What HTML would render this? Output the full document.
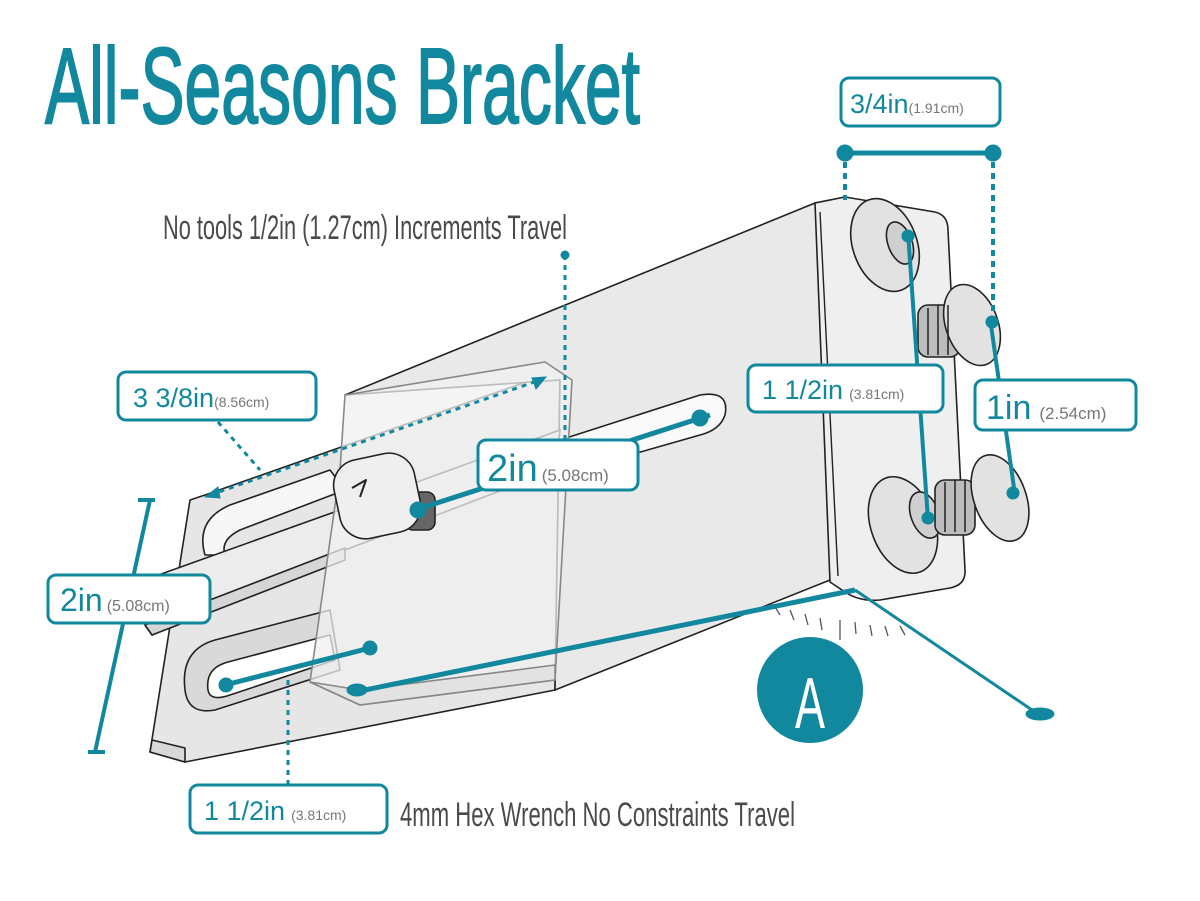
<!DOCTYPE html>
<html><head><meta charset="utf-8"><style>
html,body{margin:0;padding:0;background:#fff;}
svg{display:block}
</style></head><body>
<svg width="1200" height="901" viewBox="0 0 1200 901" xmlns="http://www.w3.org/2000/svg" font-family="Liberation Sans, sans-serif">
<rect width="1200" height="901" fill="#fff"/>
<!-- title -->
<text x="45" y="123" fill="#12889e" stroke="#12889e" stroke-width="2" font-size="108" textLength="595" lengthAdjust="spacingAndGlyphs">All-Seasons Bracket</text>
<text x="163" y="239" fill="#4a4a4a" font-size="34" textLength="404" lengthAdjust="spacingAndGlyphs">No tools 1/2in (1.27cm) Increments Travel</text>
<text x="400" y="826" fill="#4a4a4a" font-size="34" textLength="395" lengthAdjust="spacingAndGlyphs">4mm Hex Wrench No Constraints Travel</text>

<g stroke="#222" stroke-width="1.6" stroke-linejoin="round">
<!-- lower base plate -->
<polygon points="190,500 205,495 560,370 555,690 185,762 150,752" fill="#e6e6e6"/>
<polygon points="150,752 185,762 185,748 152,740" fill="#d8d8d8"/>
<!-- main box -->
<polygon points="345,395 815,203 845,197 830,580 555,690 560,380" fill="#e9e9e9"/>
<!-- right end plate -->
<path d="M815,203 L845,197 L935,212 Q948,215 948,230 L965,570 Q966,585 950,588 L880,600 Q860,602 845,592 L830,582 Z" fill="#efefef"/>
<line x1="820" y1="212" x2="838" y2="576" stroke-width="1.4"/>
<!-- upper slot on lower plate -->
<path d="M205,555 Q195,520 230,505 L330,470 L345,490 L240,530 Q220,540 225,555 Z" fill="#f7f7f7"/>
<!-- rail -->
<polygon points="150,578 340,510 560,430 555,470 345,550 152,635 145,625" fill="#ececec"/>
<polygon points="145,625 152,635 345,560 345,548" fill="#d6d6d6"/>
<!-- lower slot -->
<path d="M185,690 Q180,650 215,640 L330,610 L340,670 L215,710 Q188,715 185,690 Z" fill="#d9d9d9"/>
<path d="M208,690 Q205,668 228,662 L330,635 L335,660 L230,695 Q210,702 208,690 Z" fill="#fff"/>
<!-- right slot on main box -->
<path d="M560,440 L700,395 Q730,390 725,415 Q720,430 700,435 L560,475 Z" fill="#fafafa"/>
<!-- translucent slider plate -->
<polygon points="345,395 545,362 572,380 555,680 360,705 310,682 340,470" fill="#f0f0f0" fill-opacity="0.75" stroke="#888"/>
<polygon points="310,682 360,705 555,680 555,665 360,690" fill="#dedede" fill-opacity="0.8" stroke="#888"/>
<!-- knob -->
<rect x="405" y="492" width="30" height="38" rx="8" fill="#666"/>
<rect x="336" y="456" width="82" height="80" rx="26" fill="#efefef" transform="rotate(-12 377 495)"/>
<path d="M352,488 L366,480 L360,497" fill="none" stroke-width="2"/>
<!-- screws -->
<ellipse cx="885" cy="245" rx="32" ry="48" fill="#e2e2e2" transform="rotate(-20 885 245)"/>
<ellipse cx="900" cy="243" rx="12" ry="22" fill="#cfcfcf" transform="rotate(-20 900 243)"/>
<rect x="918" y="305" width="42" height="52" rx="10" fill="#bdbdbd"/>
<ellipse cx="972" cy="325" rx="26" ry="42" fill="#e2e2e2" transform="rotate(-20 972 325)"/>
<ellipse cx="903" cy="525" rx="32" ry="50" fill="#e2e2e2" transform="rotate(-20 903 525)"/>
<ellipse cx="925" cy="515" rx="14" ry="24" fill="#cfcfcf" transform="rotate(-20 925 515)"/>
<rect x="935" y="480" width="40" height="55" rx="10" fill="#bdbdbd"/>
<ellipse cx="1000" cy="498" rx="26" ry="45" fill="#e2e2e2" transform="rotate(-20 1000 498)"/>
</g>
<!-- thread lines -->
<g stroke="#222" stroke-width="1.5">
<line x1="928" y1="308" x2="928" y2="355"/><line x1="938" y1="305" x2="938" y2="355"/><line x1="948" y1="305" x2="948" y2="355"/>
<line x1="945" y1="482" x2="945" y2="532"/><line x1="955" y1="480" x2="955" y2="532"/><line x1="965" y1="480" x2="965" y2="532"/>
</g>
<!-- angle ticks -->
<g stroke="#555" stroke-width="1.3">
<line x1="775" y1="607" x2="780" y2="615"/><line x1="790" y1="610" x2="794" y2="620"/><line x1="805" y1="614" x2="808" y2="625"/><line x1="820" y1="618" x2="822" y2="630"/><line x1="840" y1="620" x2="840" y2="640"/><line x1="855" y1="622" x2="856" y2="634"/><line x1="870" y1="625" x2="872" y2="636"/><line x1="885" y1="626" x2="888" y2="636"/><line x1="900" y1="626" x2="905" y2="635"/>
</g>
<!-- teal dimension lines -->
<g stroke="#12889e" fill="#12889e">
<line x1="845" y1="153" x2="993" y2="153" stroke-width="5"/>
<circle cx="845" cy="153" r="8"/><circle cx="993" cy="153" r="8"/>
<line x1="845" y1="162" x2="845" y2="200" stroke-width="4" stroke-dasharray="6,5"/>
<line x1="993" y1="162" x2="993" y2="312" stroke-width="4" stroke-dasharray="6,5"/>
<line x1="908" y1="232" x2="928" y2="520" stroke-width="4"/>
<circle cx="908" cy="236" r="6"/><circle cx="928" cy="518" r="6"/>
<line x1="990" y1="318" x2="1015" y2="495" stroke-width="4"/>
<circle cx="992" cy="322" r="6"/><circle cx="1013" cy="493" r="6"/>
<line x1="415" y1="510" x2="710" y2="415" stroke-width="5"/>
<circle cx="418" cy="510" r="8"/><circle cx="700" cy="418" r="8"/>
<line x1="225" y1="685" x2="370" y2="648" stroke-width="5"/>
<circle cx="226" cy="685" r="7"/><circle cx="370" cy="648" r="7"/>
<line x1="355" y1="692" x2="855" y2="590" stroke-width="5"/>
<ellipse cx="357" cy="690" rx="10" ry="6"/>
<line x1="855" y1="590" x2="1035" y2="712" stroke-width="3"/>
<ellipse cx="1040" cy="714" rx="14" ry="6"/>
<line x1="150" y1="500" x2="95" y2="752" stroke-width="4"/>
<line x1="138" y1="500" x2="155" y2="500" stroke-width="4"/>
<line x1="88" y1="752" x2="105" y2="752" stroke-width="4"/>
<line x1="565" y1="255" x2="565" y2="440" stroke-width="3" stroke-dasharray="5,5"/>
<circle cx="565" cy="255" r="4"/>
<line x1="218" y1="422" x2="260" y2="470" stroke-width="3" stroke-dasharray="5,5"/>
<line x1="210" y1="495" x2="540" y2="380" stroke-width="3" stroke-dasharray="5,5"/>
<polygon points="205,497 218,487 220,498"/><polygon points="546,377 532,378 536,389"/>
<line x1="288" y1="680" x2="288" y2="785" stroke-width="3" stroke-dasharray="5,5"/>
</g>
<!-- A circle -->
<ellipse cx="810" cy="690" rx="53" ry="53" fill="#12889e"/>
<text x="810" y="728" fill="#fff" font-size="72" text-anchor="middle" textLength="30" lengthAdjust="spacingAndGlyphs">A</text>
<!-- label boxes -->
<g fill="#fff" stroke="#12889e" stroke-width="3">
<rect x="841" y="78" width="159" height="48" rx="8"/>
<rect x="118" y="372" width="198" height="48" rx="8"/>
<rect x="478" y="440" width="160" height="50" rx="8"/>
<rect x="748" y="365" width="195" height="47" rx="8"/>
<rect x="975" y="380" width="161" height="50" rx="8"/>
<rect x="48" y="575" width="162" height="48" rx="8"/>
<rect x="190" y="785" width="197" height="48" rx="8"/>
</g>
<g fill="#12889e">
<text x="850" y="113" font-size="27">3/4in<tspan fill="#777" font-size="14">(1.91cm)</tspan></text>
<text x="133" y="407" font-size="27">3 3/8in<tspan fill="#777" font-size="14">(8.56cm)</tspan></text>
<text x="487" y="481" font-size="38">2in<tspan fill="#777" font-size="17" dx="4">(5.08cm)</tspan></text>
<text x="762" y="399" font-size="27">1 1/2in<tspan fill="#777" font-size="14" dx="6">(3.81cm)</tspan></text>
<text x="986" y="419" font-size="34">1in<tspan fill="#777" font-size="17" dx="8">(2.54cm)</tspan></text>
<text x="60" y="611" font-size="32">2in<tspan fill="#777" font-size="16" dx="4">(5.08cm)</tspan></text>
<text x="204" y="820" font-size="27">1 1/2in<tspan fill="#777" font-size="14" dx="6">(3.81cm)</tspan></text>
</g>
</svg>
</body></html>
